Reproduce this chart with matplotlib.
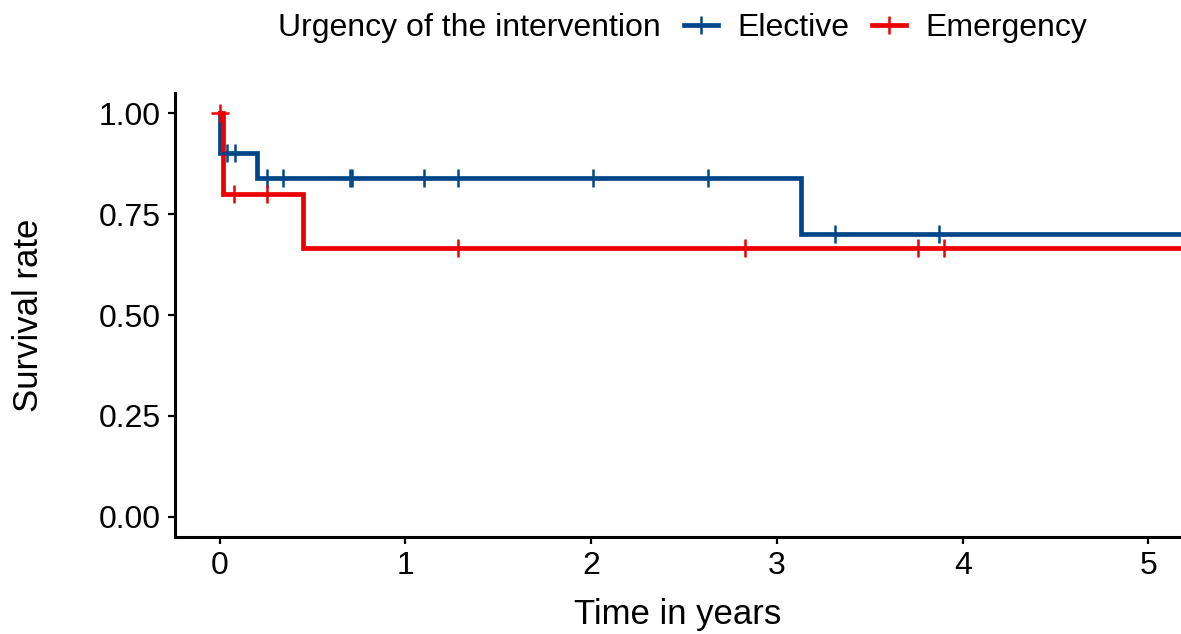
import matplotlib.pyplot as plt
import matplotlib.lines as mlines
import numpy as np

plt.rcParams['font.family'] = ['Liberation Sans', 'DejaVu Sans']

# Kaplan-Meier steps (time in years, survival after the step)
elective_times = [0.0, 0.003, 0.20, 3.13, 5.3]
elective_surv = [1.00, 0.90, 0.84, 0.70, 0.70]
elective_censor = [0.04, 0.08, 0.255, 0.343, 0.70, 0.71, 1.10, 1.28,
                   2.01, 2.63, 3.31, 3.87]

emergency_times = [0.0, 0.015, 0.45, 5.3]
emergency_surv = [1.00, 0.80, 0.667, 0.667]
emergency_censor = [0.003, 0.075, 0.257, 1.28, 2.83, 3.76, 3.90]

groups = ['Elective', 'Emergency']
colors = ['#00468B', '#ED0000']
legend_title = 'Urgency of the intervention'

FS = 23
FS_TITLE = 25
LW = 3.4
MS = 12.5
MEW = 1.8


def surv_at(times, surv, t):
    idx = np.searchsorted(times, t, side='right') - 1
    return np.asarray(surv)[idx]


fig = plt.figure(figsize=(11.81, 6.34), dpi=100)
ax = fig.add_axes([0.148, 0.1527, 0.852, 0.7009])

series = [(elective_times, elective_surv, elective_censor),
          (emergency_times, emergency_surv, emergency_censor)]
for (t, s, c), col in zip(series, colors):
    ax.step(t, s, where='post', color=col, lw=LW, solid_joinstyle='miter', zorder=3)
    ax.plot(c, surv_at(t, s, c), ls='none', marker='+', ms=MS, mew=MEW,
            color=col, zorder=4)

ax.set_xlim(-0.242, 5.175)
ax.set_ylim(-0.05, 1.05)
ax.set_xticks([0, 1, 2, 3, 4, 5])
ax.set_yticks([0, 0.25, 0.5, 0.75, 1.0])
ax.set_yticklabels(['0.00', '0.25', '0.50', '0.75', '1.00'])

for side in ['top', 'right']:
    ax.spines[side].set_visible(False)
for side in ['left', 'bottom']:
    ax.spines[side].set_linewidth(2.2)
    ax.spines[side].set_color('black')
ax.tick_params(axis='both', length=5, width=1.6, pad=5, labelsize=FS,
               colors='black')

ax.set_xlabel('Time in years', fontsize=FS_TITLE, labelpad=12.5)
ax.set_ylabel('Survival rate', fontsize=FS_TITLE, labelpad=39)

# legend across the top: title on the left, keys in one row
fig.text(278 / 1181, 1 - 28 / 634, legend_title, fontsize=FS,
         ha='left', va='center')
handles = [mlines.Line2D([], [], color=col, lw=LW, marker='+', ms=MS, mew=MEW)
           for col in colors]
fig.legend(handles, groups, loc='center left',
           bbox_to_anchor=(684 / 1181, 1 - 28 / 634), ncol=2, frameon=False,
           fontsize=FS, handlelength=1.06, handletextpad=0.62,
           columnspacing=0.69, borderpad=0, borderaxespad=0)

fig.savefig('out.png', dpi=100)
